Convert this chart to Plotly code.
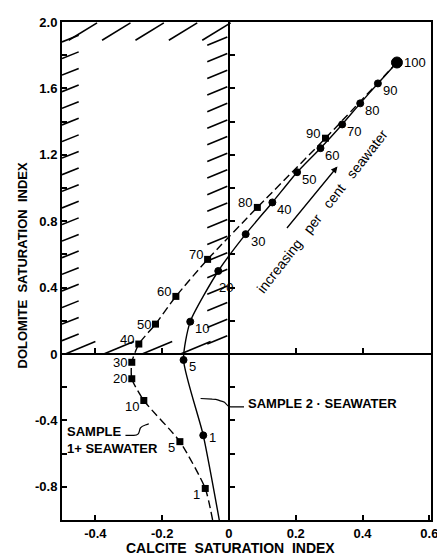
import numpy as np
import plotly.graph_objects as go

# ---------------- data ----------------
# Sample 1 + seawater (dashed curve, square markers)
s1_pct = [1, 5, 10, 20, 30, 40, 50, 60, 70, 80, 90, 100]
s1_x = [-0.071, -0.147, -0.255, -0.291, -0.291, -0.27, -0.22, -0.159, -0.064, 0.085, 0.289, 0.503]
s1_y = [-0.81, -0.528, -0.28, -0.149, -0.05, 0.06, 0.18, 0.347, 0.57, 0.883, 1.30, 1.756]
# curve continuation below the 1 % point (toward pure sample)
s1_tail_x = [-0.049]
s1_tail_y = [-1.0]

# Sample 2 + seawater (solid curve, round markers)
s2_pct = [1, 5, 10, 20, 30, 40, 50, 60, 70, 80, 90, 100]
s2_x = [-0.077, -0.136, -0.116, -0.032, 0.05, 0.13, 0.204, 0.274, 0.339, 0.393, 0.446, 0.503]
s2_y = [-0.49, -0.036, 0.195, 0.50, 0.722, 0.913, 1.095, 1.24, 1.383, 1.51, 1.63, 1.756]
s2_tail_x = [-0.029]
s2_tail_y = [-1.0]

x_tick_vals = [-0.4, -0.2, 0, 0.2, 0.4, 0.6]
x_tick_text = ["-0.4", "-0.2", "0", "0.2", "0.4", "0.6"]
y_tick_vals = [-0.8, -0.6, -0.4, -0.2, 0, 0.2, 0.4, 0.6, 0.8, 1.0, 1.2, 1.4, 1.6, 1.8, 2.0]
y_tick_text = ["-0.8", "", "-0.4", "", "0", "", "0.4", "", "0.8", "", "1.2", "", "1.6", "", "2.0"]

X_RANGE = [-0.5, 0.605]
Y_RANGE = [-1.0, 2.0]
FONT = "Liberation Sans, Arial, sans-serif"

# page body has an 8px default margin: size/margins compensate for it
FIG_W, FIG_H = 437, 551
M_L, M_R, M_T, M_B = 54, 10, 7, 39
PLOT_W = FIG_W - M_L - M_R
PLOT_H = FIG_H - M_T - M_B

fig = go.Figure()

# curves
fig.add_trace(go.Scatter(
    x=s1_tail_x + s1_x, y=s1_tail_y + s1_y, mode="lines",
    line=dict(color="black", width=1.4, dash="8px,4px", shape="spline", smoothing=0.6),
    hoverinfo="skip", showlegend=False))
fig.add_trace(go.Scatter(
    x=s2_tail_x + s2_x, y=s2_tail_y + s2_y, mode="lines",
    line=dict(color="black", width=1.4, shape="spline", smoothing=0.6),
    hoverinfo="skip", showlegend=False))

# markers
fig.add_trace(go.Scatter(
    x=s1_x[:-1], y=s1_y[:-1], mode="markers",
    marker=dict(symbol="square", size=7, color="black", opacity=1, line=dict(width=0)),
    text=[str(p) for p in s1_pct[:-1]], showlegend=False))
fig.add_trace(go.Scatter(
    x=s2_x, y=s2_y, mode="markers",
    marker=dict(symbol="circle", color="black", opacity=1, line=dict(width=1, color="black"),
                size=[11 if p == 100 else 7 for p in s2_pct]),
    text=[str(p) for p in s2_pct], showlegend=False))

# invisible trace for interior axes
fig.add_trace(go.Scatter(x=[None], y=[None], xaxis="x2", yaxis="y2", showlegend=False))

annotations = []
lab_font = dict(family=FONT, size=13, color="black")
# sample 1 labels: to the left
for p, x, y in zip(s1_pct[:-1], s1_x[:-1], s1_y[:-1]):
    dy = -5 if p in (40, 60, 70, 80, 90) else (6 if p in (1, 5, 10) else 0)
    annotations.append(dict(x=x, y=y, text=str(p), showarrow=False, xanchor="right",
                            yanchor="middle", xshift=-3, yshift=-dy, font=lab_font))
# sample 2 labels: to the right, slightly below
for p, x, y in zip(s2_pct, s2_x, s2_y):
    if p == 100:
        annotations.append(dict(x=x, y=y, text=str(p), showarrow=False, xanchor="left",
                                yanchor="middle", xshift=5, font=lab_font))
    elif p == 1:
        annotations.append(dict(x=x, y=y, text=str(p), showarrow=False, xanchor="left",
                                yanchor="middle", xshift=4, yshift=-2, font=lab_font))
    elif p == 20:
        annotations.append(dict(x=x, y=y, text=str(p), showarrow=False, xanchor="left",
                                yanchor="middle", xshift=-1, yshift=-16, font=lab_font))
    else:
        annotations.append(dict(x=x, y=y, text=str(p), showarrow=False, xanchor="left",
                                yanchor="middle", xshift=3, yshift=-7, font=lab_font))

# series labels
annotations.append(dict(x=0.05, y=-0.30, text="<b>SAMPLE 2 · SEAWATER</b>", showarrow=False,
                        xanchor="left", yanchor="middle",
                        font=dict(family=FONT, size=13, color="black")))
annotations.append(dict(x=-0.49, y=-0.52, text="<b>SAMPLE<br>1+ SEAWATER</b>", showarrow=False,
                        xanchor="left", yanchor="middle", align="left",
                        font=dict(family=FONT, size=13, color="black")))
annotations.append(dict(x=0.28, y=0.86, text="increasing   per   cent   seawater", showarrow=False,
                        xanchor="center", yanchor="middle",
                        textangle=-52, font=dict(family=FONT, size=14, color="black")))
# arrow
annotations.append(dict(x=0.325, y=1.13, ax=0.17, ay=0.75, xref="x", yref="y",
                        axref="x", ayref="y", text="", showarrow=True,
                        arrowhead=2, arrowsize=1, arrowwidth=1.3, arrowcolor="black"))
# axis titles
annotations.append(dict(x=0.5, y=-28 / PLOT_H, xref="paper", yref="paper",
                        text="<b>CALCITE  SATURATION  INDEX</b>", showarrow=False,
                        xanchor="center", yanchor="middle", xshift=-16,
                        font=dict(family=FONT, size=14, color="black")))
annotations.append(dict(x=-40 / PLOT_W, y=0.5, xref="paper", yref="paper",
                        text="<b>DOLOMITE  SATURATION  INDEX</b>", showarrow=False,
                        xanchor="center", yanchor="middle", yshift=6,
                        textangle=-90, font=dict(family=FONT, size=13, color="black")))

# leader squiggles (decorative)
shapes = []
shapes.append(dict(type="path", xref="x", yref="y",
                   path="M 0.045,-0.318 L 0.005,-0.318 C -0.01,-0.318 -0.005,-0.29 -0.02,-0.285 "
                        "C -0.035,-0.28 -0.03,-0.272 -0.05,-0.272 L -0.085,-0.268",
                   line=dict(color="black", width=1.2)))
shapes.append(dict(type="path", xref="x", yref="y",
                   path="M -0.31,-0.49 L -0.285,-0.49 C -0.265,-0.49 -0.27,-0.46 -0.265,-0.445 "
                        "C -0.26,-0.43 -0.25,-0.43 -0.24,-0.42",
                   line=dict(color="black", width=1.2)))

# hatching of the forbidden region (x<0, y>0)
hatch = dict(color="black", width=1.6)
for yy in np.arange(0.08, 1.92, 0.1):       # left strip
    shapes.append(dict(type="line", xref="x", yref="y", x0=-0.5, y0=yy, x1=-0.45, y1=yy + 0.04, line=hatch))
for xx in np.arange(-0.48, -0.05, 0.1):      # top strip
    shapes.append(dict(type="line", xref="x", yref="y", x0=xx, y0=1.89, x1=xx + 0.085, y1=1.995, line=hatch))
for yy in np.arange(0.06, 1.9, 0.1):         # right strip
    shapes.append(dict(type="line", xref="x", yref="y", x0=-0.065, y0=yy, x1=-0.005, y1=yy + 0.05, line=hatch))
for xx in np.arange(-0.49, -0.08, 0.115):     # bottom strip
    shapes.append(dict(type="line", xref="x", yref="y", x0=xx, y0=0.0, x1=xx + 0.09, y1=0.075, line=hatch))

axis_common = dict(showgrid=False, zeroline=False, showline=True, linecolor="black",
                   linewidth=2, ticks="inside", ticklen=5, tickwidth=1.5, tickcolor="black")
tick_font = dict(family=FONT, size=13, color="black", weight="bold")

fig.update_layout(
    width=FIG_W, height=FIG_H,
    margin=dict(l=M_L, r=M_R, t=M_T, b=M_B),
    paper_bgcolor="white", plot_bgcolor="white",
    font=dict(family=FONT, size=12, color="black"),
    xaxis=dict(range=X_RANGE, tickvals=x_tick_vals, ticktext=x_tick_text, mirror=True,
               tickfont=tick_font, **axis_common),
    yaxis=dict(range=Y_RANGE, tickvals=y_tick_vals, ticktext=y_tick_text, mirror=True,
               tickfont=tick_font, **axis_common),
    xaxis2=dict(range=X_RANGE, overlaying="x", anchor="free", position=1 / 3,
                tickvals=[-0.4, -0.2, 0.2, 0.4], showticklabels=False, **axis_common),
    yaxis2=dict(range=Y_RANGE, overlaying="y", anchor="free", position=0.5 / 1.105,
                tickvals=[v for v in y_tick_vals if v != 0], showticklabels=False, **axis_common),
    annotations=annotations,
    shapes=shapes,
    showlegend=False,
)

fig.write_html("out.html")
